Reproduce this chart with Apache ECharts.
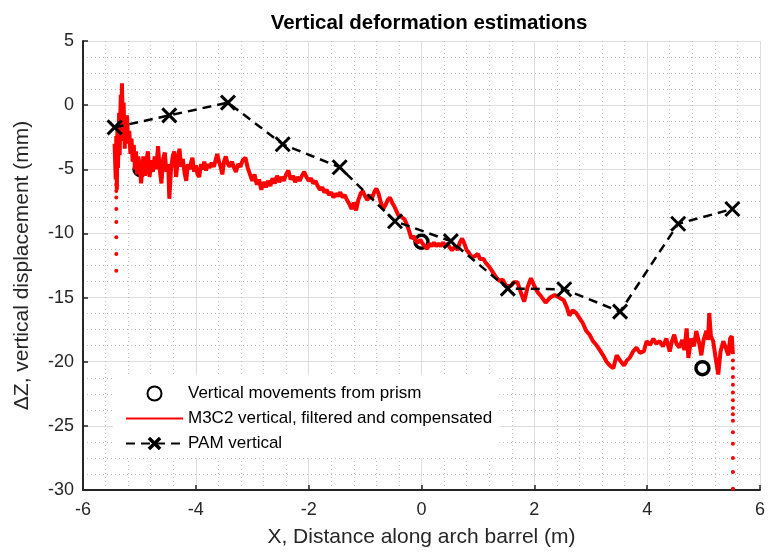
<!DOCTYPE html>
<html>
<head>
<meta charset="utf-8">
<script src="https://cdn.jsdelivr.net/npm/echarts@6/dist/echarts.min.js"></script>
<style>
html, body { margin: 0; padding: 0; background: #fff; }
#chart { width: 768px; height: 553px; }
</style>
</head>
<body>
<div id="chart"></div>
<script>
// Prism readings (mm) along the arch
const prismX = [-4.98, 0.0, 4.98];
const prismY = [-5.0, -10.65, -20.5];

// PAM vertical estimates (mm)
const pamX = [-5.44, -4.47, -3.43, -2.46, -1.45, -0.47, 0.52, 1.53, 2.53, 3.52, 4.55, 5.51];
const pamY = [-1.73, -0.8, 0.2, -3.05, -4.84, -9.05, -10.6, -14.3, -14.35, -16.1, -9.25, -8.1];

// M3C2 vertical profile, filtered and compensated (mm)
const m3c2X = [
  -5.44, -5.42, -5.41, -5.40, -5.39, -5.38, -5.37, -5.36, -5.35, -5.34,
  -5.33, -5.32, -5.31, -5.30, -5.29, -5.28, -5.27, -5.26, -5.25, -5.24,
  -5.22, -5.20, -5.18, -5.16, -5.14, -5.12, -5.10, -5.08, -5.06, -5.04,
  -5.02, -5.00, -4.97, -4.93, -4.90, -4.87, -4.85, -4.82, -4.79, -4.76,
  -4.73, -4.70, -4.67, -4.64, -4.61, -4.58, -4.55, -4.52, -4.49, -4.47,
  -4.44, -4.41, -4.38, -4.35, -4.32, -4.29, -4.26, -4.23, -4.20, -4.17,
  -4.14, -4.11, -4.08, -4.06, -4.03, -4.00, -3.97, -3.94, -3.91, -3.88,
  -3.85, -3.82, -3.79, -3.76, -3.72, -3.68, -3.65, -3.62, -3.59, -3.56,
  -3.53, -3.50, -3.47, -3.44, -3.40, -3.36, -3.32, -3.29, -3.25, -3.21,
  -3.17, -3.12, -3.08, -3.04, -3.00, -2.96, -2.92, -2.88, -2.84, -2.80,
  -2.76, -2.72, -2.68, -2.64, -2.60, -2.56, -2.52, -2.48, -2.44, -2.40,
  -2.36, -2.32, -2.28, -2.24, -2.20, -2.16, -2.12, -2.08, -2.04, -2.00,
  -1.96, -1.92, -1.88, -1.84, -1.80, -1.76, -1.72, -1.68, -1.64, -1.60,
  -1.56, -1.52, -1.48, -1.44, -1.40, -1.36, -1.32, -1.28, -1.24, -1.20,
  -1.16, -1.12, -1.08, -1.04, -1.00, -0.96, -0.92, -0.88, -0.84, -0.80,
  -0.76, -0.72, -0.68, -0.64, -0.60, -0.56, -0.52, -0.48, -0.44, -0.41,
  -0.36, -0.30, -0.26, -0.22, -0.18, -0.14, -0.10, -0.06, -0.02, 0.02,
  0.06, 0.10, 0.14, 0.18, 0.22, 0.26, 0.30, 0.34, 0.38, 0.42,
  0.46, 0.50, 0.54, 0.60, 0.64, 0.68, 0.72, 0.76, 0.80, 0.84,
  0.88, 0.94, 1.00, 1.04, 1.10, 1.14, 1.20, 1.26, 1.32, 1.38,
  1.44, 1.50, 1.58, 1.64, 1.70, 1.76, 1.82, 1.88, 1.94, 2.00,
  2.06, 2.12, 2.20, 2.28, 2.36, 2.44, 2.52, 2.58, 2.62, 2.68,
  2.74, 2.80, 2.86, 2.92, 2.98, 3.04, 3.10, 3.16, 3.22, 3.28,
  3.34, 3.40, 3.46, 3.52, 3.59, 3.64, 3.69, 3.75, 3.81, 3.87,
  3.94, 3.99, 4.05, 4.11, 4.16, 4.22, 4.28, 4.34, 4.40, 4.44,
  4.48, 4.52, 4.57, 4.62, 4.66, 4.70, 4.73, 4.78, 4.83, 4.87,
  4.92, 4.96, 5.00, 5.05, 5.08, 5.10, 5.13, 5.17, 5.21, 5.26,
  5.30, 5.35, 5.40, 5.44, 5.47, 5.50, 5.52
];
const m3c2Y = [
  -3.0, -5.8, -2.4, -6.6, -1.8, -4.9, -2.6, -0.6, -3.9, -1.2,
  0.8, -2.2, 1.7, -0.5, -2.8, 0.2, -1.6, -3.4, -1.0, -2.6,
  -0.8, -3.0, -2.0, -3.8, -2.6, -4.4, -3.1, -5.0, -3.6, -5.4,
  -4.0, -4.6, -6.1, -4.0, -5.5, -4.2, -3.6, -5.6, -4.3, -5.2,
  -4.0, -5.0, -3.2, -5.0, -6.1, -4.2, -3.7, -5.2, -4.6, -7.3,
  -5.0, -4.0, -3.6, -5.6, -4.3, -3.4, -4.8, -4.2, -5.3, -5.9,
  -4.6, -5.0, -4.4, -4.1, -5.2, -4.7, -5.4, -5.6, -4.6, -5.0,
  -4.4, -5.1, -4.6, -4.9, -4.5, -4.8, -4.3, -3.8, -4.4, -4.8,
  -5.4, -4.4, -4.0, -4.5, -4.8, -4.4, -4.9, -5.2, -4.6, -4.8,
  -4.3, -4.1, -4.9, -5.4, -5.9, -5.4, -6.2, -5.8, -6.6, -6.0,
  -6.4, -5.9, -6.3, -5.7, -6.1, -5.5, -6.0, -5.6, -5.9, -5.4,
  -5.1, -5.8, -5.5, -6.0, -5.6, -5.9, -5.5, -5.2, -5.6, -5.9,
  -5.7, -6.1, -5.9, -6.3, -6.6, -6.4, -6.8, -6.6, -7.0, -6.8,
  -7.2, -6.9, -7.1, -6.8, -7.2, -7.0, -7.4, -7.7, -8.1, -7.6,
  -8.2, -7.4, -6.9, -6.7, -7.1, -7.4, -7.0, -7.3, -6.8, -6.5,
  -6.9, -7.6, -8.1, -7.8, -7.4, -7.2, -7.6, -7.9, -8.3, -8.6,
  -8.7, -8.9, -9.3, -9.8, -10.4, -10.2, -10.6, -10.7, -10.5, -10.8,
  -11.0, -11.2, -10.8, -11.0, -10.7, -11.0, -10.8, -11.0, -10.7, -11.0,
  -10.8, -11.1, -11.3, -11.0, -11.3, -10.7, -10.4, -10.8, -11.3, -11.5,
  -11.8, -11.8, -11.6, -12.0, -12.0, -12.3, -12.6, -13.0, -13.4, -13.7,
  -13.6, -14.1, -14.1, -13.8, -13.8, -14.6, -15.3, -14.2, -13.5, -14.1,
  -14.6, -14.9, -15.4, -15.0, -14.8, -15.0, -15.2, -15.8, -16.4, -16.0,
  -16.2, -16.6, -17.0, -17.6, -17.9, -18.4, -18.7, -19.1, -19.5, -20.0,
  -20.3, -20.5, -19.5, -19.9, -20.3, -19.9, -19.7, -19.2, -18.9, -19.3,
  -19.2, -18.4, -18.7, -18.2, -18.6, -18.4, -18.8, -18.2, -19.2, -18.4,
  -17.9, -18.6, -18.9, -18.3, -19.1, -17.4, -19.7, -18.2, -18.8, -17.6,
  -18.5, -19.5, -18.3, -17.6, -18.3, -16.2, -18.0, -18.4, -19.6, -21.0,
  -19.2, -18.4, -19.0, -19.5, -18.2, -18.0, -19.4
];

// Sparse M3C2 samples at both ends of the scan
const tailX = [-5.41, -5.41, -5.41, -5.41, -5.41, -5.41, -5.41, -5.41, -5.41,
  5.52, 5.52, 5.52, 5.52, 5.52, 5.52, 5.52, 5.52, 5.52, 5.52, 5.52, 5.52, 5.52, 5.52];
const tailY = [-6.2, -6.7, -7.2, -8.1, -9.1, -10.3, -11.6, -12.9, -5.6,
  -19.9, -20.5, -21.2, -21.8, -22.4, -23.0, -23.6, -24.1, -24.6, -25.5, -26.4, -27.5, -28.6, -29.9];

// Axis ranges and ticks
const xRange = [-6, 6], xStep = 2;
const yRange = [-30, 5], yStep = 5;

const zip = (xs, ys) => xs.map((x, i) => [x, ys[i]]);

const NAME_PRISM = 'Vertical movements from prism';
const NAME_M3C2 = 'M3C2 vertical, filtered and compensated';
const NAME_PAM = 'PAM vertical';

const FONT = 'Liberation Sans, Arial, sans-serif';
const INK = '#262626';
const crossPath = 'path://M0,0L10,10M10,0L0,10';

const axisCommon = {
  type: 'value',
  axisLine: { show: true, onZero: false, lineStyle: { color: INK, width: 2 } },
  axisTick: { show: true, inside: true, length: 5, lineStyle: { color: INK, width: 1.5 } },
  axisLabel: { color: INK, fontSize: 18, fontFamily: FONT },
  splitLine: { show: true, lineStyle: { color: '#dedede', width: 1 } },
  minorSplitLine: { show: true, lineStyle: { color: '#c4c4c4', width: 1, type: [1, 3] } },
  nameLocation: 'middle',
  nameTextStyle: { color: INK, fontSize: 21, fontFamily: FONT }
};

const chart = echarts.init(document.getElementById('chart'), null, { renderer: 'canvas' });

chart.setOption({
  animation: false,
  backgroundColor: '#fff',
  title: {
    text: 'Vertical deformation estimations',
    left: 424, top: 8, textAlign: 'center',
    textStyle: { fontSize: 20.5, fontWeight: 'bold', color: '#000', fontFamily: FONT }
  },
  grid: { left: 83, right: 4, top: 41, bottom: 60, containLabel: false },
  legend: {
    orient: 'vertical',
    left: 113, top: 375,
    padding: [10, 7, 6, 12],
    itemGap: 8,
    itemWidth: 57, itemHeight: 14,
    backgroundColor: '#fff',
    textStyle: { color: '#000', fontSize: 17, lineHeight: 17, fontFamily: FONT },
    data: [
      NAME_PRISM,
      // plain red line: hide the point marker in this entry
      { name: NAME_M3C2, itemStyle: { color: 'rgba(0,0,0,0)', borderWidth: 0, opacity: 0 } },
      { name: NAME_PAM, itemStyle: { color: '#000', borderColor: '#000', borderWidth: 3.5 } }
    ]
  },
  xAxis: Object.assign({}, axisCommon, {
    min: xRange[0], max: xRange[1], interval: xStep,
    minorTick: { show: false, splitNumber: 5 },
    axisLabel: Object.assign({}, axisCommon.axisLabel, { margin: 11 }),
    name: 'X, Distance along arch barrel (m)',
    nameGap: 37
  }),
  yAxis: Object.assign({}, axisCommon, {
    min: yRange[0], max: yRange[1], interval: yStep,
    minorTick: { show: false, splitNumber: 4 },
    axisLabel: Object.assign({}, axisCommon.axisLabel, { margin: 9 }),
    name: 'ΔZ, vertical displacement (mm)',
    nameGap: 50
  }),
  series: [
    {
      name: NAME_PRISM,
      type: 'scatter',
      data: zip(prismX, prismY),
      symbol: 'circle',
      symbolSize: 13,
      itemStyle: { color: 'rgba(0,0,0,0)', borderColor: '#000', borderWidth: 3.5, opacity: 1 },
      z: 2
    },
    {
      name: NAME_M3C2,
      type: 'line',
      data: zip(m3c2X, m3c2Y),
      symbol: 'none',
      lineStyle: { color: '#ff0000', width: 4 },
      itemStyle: { color: '#ff0000' },
      z: 3
    },
    {
      name: 'M3C2 end samples',
      type: 'scatter',
      data: zip(tailX, tailY),
      symbol: 'circle',
      symbolSize: 4,
      itemStyle: { color: '#ff0000', opacity: 1 },
      z: 3
    },
    {
      name: NAME_PAM,
      type: 'line',
      data: zip(pamX, pamY),
      symbol: crossPath,
      symbolSize: 14,
      lineStyle: { color: '#000', width: 2.5, type: [9, 6] },
      itemStyle: { color: '#000', borderColor: '#000', borderWidth: 3 },
      z: 4
    }
  ]
});
</script>
</body>
</html>
